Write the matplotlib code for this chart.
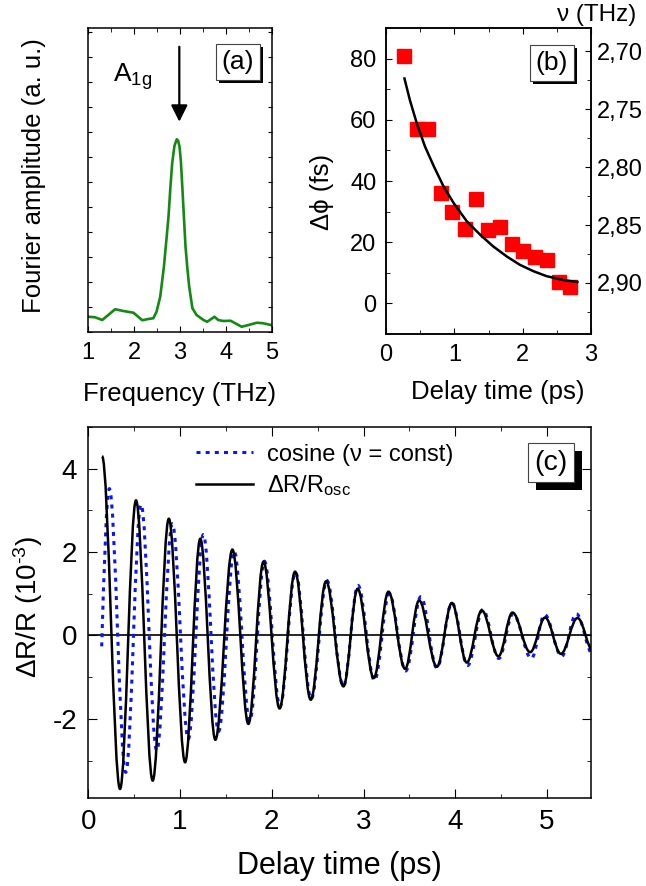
import matplotlib
matplotlib.use('Agg')
import matplotlib.pyplot as plt
from matplotlib.path import Path
from matplotlib.patches import PathPatch
from matplotlib.lines import Line2D
import matplotlib.patheffects as pe
from matplotlib.ticker import MultipleLocator, FixedLocator

plt.rcParams['font.family'] = ['Liberation Sans', 'DejaVu Sans']
plt.rcParams['mathtext.fontset'] = 'custom'
plt.rcParams['mathtext.rm'] = 'Liberation Sans'
plt.rcParams['mathtext.it'] = 'Liberation Sans:italic'
plt.rcParams['mathtext.bf'] = 'Liberation Sans:bold'
plt.rcParams['axes.linewidth'] = 1.1
plt.rcParams['axes.unicode_minus'] = False

''' data read off the figure '''

# (a) Fourier spectrum
freq_a = [1.00, 1.15, 1.31, 1.44, 1.59, 1.77, 1.99, 2.09, 2.18, 2.31, 2.42, 2.49, 2.57,
          2.65, 2.70, 2.75, 2.79, 2.83, 2.88, 2.93, 2.96, 2.99, 3.02, 3.05, 3.085, 3.12,
          3.16, 3.20, 3.27, 3.36, 3.51, 3.59, 3.67, 3.75, 3.83, 3.94, 4.10, 4.23, 4.34,
          4.49, 4.67, 4.81, 5.00]
amp_a = [0.061, 0.059, 0.048, 0.068, 0.091, 0.084, 0.077, 0.061, 0.047, 0.052, 0.055, 0.081, 0.141,
         0.261, 0.360, 0.461, 0.575, 0.675, 0.745, 0.771, 0.765, 0.741, 0.680, 0.581, 0.460, 0.341,
         0.255, 0.181, 0.095, 0.068, 0.048, 0.041, 0.051, 0.061, 0.048, 0.044, 0.045, 0.032, 0.021,
         0.028, 0.037, 0.035, 0.027]

# (b) phase shift vs delay time
delay_b = [0.26, 0.45, 0.62, 0.80, 0.97, 1.15, 1.32, 1.49, 1.67, 1.84, 2.01, 2.18, 2.35, 2.53, 2.69]
dphi_b = [80.8, 56.9, 56.9, 36.1, 29.9, 24.2, 34.1, 24.0, 25.0, 19.3, 17.1, 15.3, 14.1, 7.0, 5.2]
fit_t = [0.27, 0.35, 0.45, 0.57, 0.70, 0.84, 0.99, 1.18, 1.38, 1.57, 1.77, 1.96, 2.16, 2.35, 2.60, 2.80]
fit_phi = [73.5, 66.4, 58.9, 51.3, 44.8, 38.3, 32.8, 26.9, 22.4, 18.6, 15.3, 12.6, 10.5, 8.9, 7.6, 7.0]
nu_ticks = [2.70, 2.75, 2.80, 2.85, 2.90]
nu_labels = ['2,70', '2,75', '2,80', '2,85', '2,90']

# (c) extrema of the oscillations (time in ps, value in 1e-3)
osc_t = [0.150, 0.346, 0.520, 0.702, 0.878, 1.055, 1.221, 1.385, 1.571, 1.745, 1.910,
         2.085, 2.254, 2.425, 2.592, 2.781, 2.936, 3.112, 3.272, 3.454, 3.606, 3.800,
         3.963, 4.126, 4.290, 4.471, 4.624, 4.817, 4.980, 5.152, 5.333, 5.505]
osc_v = [4.30, -3.68, 3.24, -3.48, 2.80, -3.04, 2.32, -2.50, 2.06, -2.12, 1.77,
         -1.75, 1.53, -1.54, 1.30, -1.22, 1.12, -1.02, 1.05, -0.80, 0.84, -0.75,
         0.78, -0.65, 0.60, -0.50, 0.55, -0.40, 0.43, -0.44, 0.42, -0.38]
cos_t = [0.146, 0.229, 0.408, 0.575, 0.746, 0.916, 1.090, 1.254, 1.420, 1.590, 1.760,
         1.920, 2.090, 2.258, 2.430, 2.600, 2.780, 2.940, 3.120, 3.280, 3.460, 3.625,
         3.800, 3.965, 4.135, 4.300, 4.475, 4.630, 4.830, 4.975, 5.160, 5.320, 5.500]
cos_v = [-0.26, 3.52, -3.28, 3.14, -2.76, 2.68, -2.48, 2.42, -2.30, 2.02, -2.05,
         1.78, -1.70, 1.52, -1.52, 1.32, -1.22, 1.20, -1.08, 1.00, -0.85, 0.93,
         -0.78, 0.78, -0.72, 0.62, -0.55, 0.52, -0.55, 0.50, -0.50, 0.52, -0.45]


def wave_path(t, v, free_start=False):
    # smooth cubic segments between successive extrema (flat tangents at extrema)
    verts = [(t[0], v[0])]
    codes = [Path.MOVETO]
    for i in range(len(t) - 1):
        dt = t[i + 1] - t[i]
        if i == 0 and free_start:
            c1 = (t[i] + 0.3 * dt, v[i] + 0.47 * (v[i + 1] - v[i]))
        else:
            c1 = (t[i] + 0.363 * dt, v[i])
        c2 = (t[i + 1] - 0.363 * dt, v[i + 1])
        verts += [c1, c2, (t[i + 1], v[i + 1])]
        codes += [Path.CURVE4] * 3
    return Path(verts, codes)


def panel_label(ax, x, y, s, size, off):
    t = ax.text(x, y, s, transform=ax.transAxes, ha='center', va='center', fontsize=size,
                bbox=dict(boxstyle='square,pad=0.22', fc='white', ec='#444444', lw=0.8),
                zorder=10)
    t.get_bbox_patch().set_path_effects(
        [pe.SimplePatchShadow(offset=(off, -off), shadow_rgbFace='black', alpha=1.0),
         pe.Normal()])


fig = plt.figure(figsize=(6.46, 8.86), dpi=100)
ax_a = fig.add_axes([88 / 646, 1 - 332 / 886, 184 / 646, 304 / 886])
ax_b = fig.add_axes([386 / 646, 1 - 334 / 886, 205 / 646, 306 / 886])
ax_c = fig.add_axes([88.3 / 646, 1 - 797.7 / 886, 502.7 / 646, 370.7 / 886])

''' panel (a) '''
ax_a.plot(freq_a, amp_a, color='#138a13', lw=1.9)
ax_a.set_xlim(1, 5)
ax_a.set_ylim(0, 1.216)
ax_a.xaxis.set_major_locator(MultipleLocator(1))
ax_a.xaxis.set_minor_locator(MultipleLocator(0.5))
ax_a.yaxis.set_major_locator(MultipleLocator(0.1))
ax_a.tick_params(which='both', direction='in', top=True, right=True, labelsize=17)
ax_a.tick_params(axis='x', which='major', length=4.5, pad=7)
ax_a.tick_params(axis='x', which='minor', length=3)
ax_a.tick_params(axis='y', length=3, labelleft=False)
ax_a.set_xlabel('Frequency (THz)', fontsize=18.5)
ax_a.set_ylabel('Fourier amplitude (a. u.)', fontsize=18.5)
ax_a.xaxis.set_label_coords(0.5, -0.165)
ax_a.yaxis.set_label_coords(-0.228, 0.516)
ax_a.annotate('', xy=(2.985, 0.841), xytext=(2.985, 1.141),
              arrowprops=dict(arrowstyle='-|>,head_length=1.0,head_width=0.5',
                              color='black', lw=1.6, shrinkA=0, shrinkB=0))
ax_a.text(1.54, 1.0, r'A$_{\mathrm{1g}}$', fontsize=19, ha='left', va='baseline')
panel_label(ax_a, 0.815, 0.888, '(a)', 19, 2.2)

''' panel (b) '''
ax_b.plot(delay_b, dphi_b, 's', color='red', ms=9.5, zorder=3)
ax_b.plot(fit_t, fit_phi, color='black', lw=1.8, zorder=4)
ax_b.set_xlim(0, 3)
ax_b.set_ylim(-10, 90)
ax_b.xaxis.set_major_locator(MultipleLocator(1))
ax_b.xaxis.set_minor_locator(MultipleLocator(0.5))
ax_b.yaxis.set_major_locator(MultipleLocator(20))
ax_b.yaxis.set_minor_locator(MultipleLocator(10))
ax_b.tick_params(which='both', direction='in', top=True, right=False, labelsize=17)
ax_b.tick_params(which='major', length=4.5)
ax_b.tick_params(which='minor', length=3)
ax_b.tick_params(axis='x', pad=7)
ax_b.tick_params(axis='y', pad=7)
ax_b.set_xlabel('Delay time (ps)', fontsize=18.5)
ax_b.set_ylabel('Δϕ (fs)', fontsize=18.5)
ax_b.xaxis.set_label_coords(0.544, -0.15)
ax_b.yaxis.set_label_coords(-0.254, 0.464)
panel_label(ax_b, 0.81, 0.886, '(b)', 19, 2.2)

ax_b2 = ax_b.twinx()
ax_b2.set_ylim(2.944, 2.680)
ax_b2.yaxis.set_major_locator(FixedLocator(nu_ticks))
ax_b2.set_yticklabels(nu_labels)
ax_b2.yaxis.set_minor_locator(FixedLocator([2.725, 2.775, 2.825, 2.875, 2.925]))
ax_b2.tick_params(which='both', direction='in', labelsize=17, pad=4)
ax_b2.tick_params(which='major', length=4.5)
ax_b2.tick_params(which='minor', length=3)
fig.text(597 / 646, 1 - 15 / 886, 'ν (THz)', ha='center', va='center', fontsize=17.5)

''' panel (c) '''
ax_c.axhline(0, color='black', lw=1.2, zorder=1)
ax_c.add_patch(PathPatch(wave_path(cos_t, cos_v, free_start=True), fill=False,
                         ec='#0a14ff', lw=2.2, linestyle=(0, (1.3, 1.7)), zorder=2))
ax_c.add_patch(PathPatch(wave_path(osc_t, osc_v), fill=False, ec='black', lw=1.8, zorder=3))
ax_c.set_xlim(0, 5.48)
ax_c.set_ylim(-3.89, 5.0)
ax_c.xaxis.set_major_locator(MultipleLocator(1))
ax_c.xaxis.set_minor_locator(MultipleLocator(0.5))
ax_c.yaxis.set_major_locator(MultipleLocator(2))
ax_c.yaxis.set_minor_locator(MultipleLocator(1))
ax_c.tick_params(which='both', direction='in', top=True, right=True, labelsize=20)
ax_c.tick_params(which='major', length=6.5, pad=8)
ax_c.tick_params(which='minor', length=3.2)
ax_c.set_xlabel('Delay time (ps)', fontsize=22)
ax_c.set_ylabel(r'ΔR/R (10$^{\text{-3}}$)', fontsize=20)
ax_c.xaxis.set_label_coords(0.5, -0.145)
ax_c.yaxis.set_label_coords(-0.086, 0.514)

h_cos = Line2D([], [], color='#0a14ff', lw=2.2, linestyle=(0, (1.3, 1.7)))
h_osc = Line2D([], [], color='black', lw=1.8)
ax_c.legend([h_cos, h_osc], ['cosine (ν = const)', r'ΔR/R$_{\mathrm{osc}}$'],
            loc='upper left', bbox_to_anchor=(0.215, 0.955), frameon=False,
            fontsize=17, handlelength=2.4, handletextpad=0.6, labelspacing=0.3,
            borderpad=0, borderaxespad=0)
panel_label(ax_c, 0.921, 0.904, '(c)', 20.5, 5.8)

fig.savefig('out.png', dpi=100)
